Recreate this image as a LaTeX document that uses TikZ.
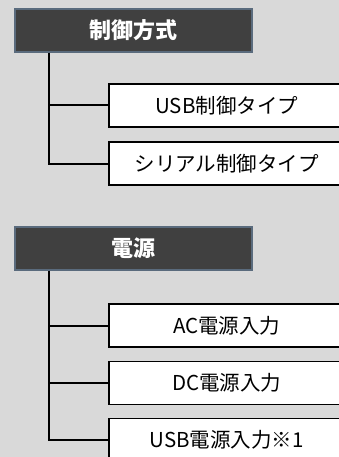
\documentclass[tikz,border=0pt]{standalone}
\usepackage{fontspec}
\setmainfont{Noto Sans CJK JP}
\definecolor{bg}{HTML}{D9D9D9}
\definecolor{hdr}{HTML}{404040}
\definecolor{hdrline}{HTML}{5A6B7D}
\begin{document}
\begin{tikzpicture}[x=1pt,y=-1pt,
  hdrbox/.style={draw=hdrline,line width=1.2pt,fill=hdr,text=white,minimum width=237pt,minimum height=43pt,inner sep=0pt,font=\fontsize{22}{22}\selectfont\bfseries},
  itembox/.style={draw=black,line width=1.5pt,fill=white,minimum width=236pt,minimum height=43pt,inner sep=0pt,font=\fontsize{20.5}{20.5}\selectfont},
  conn/.style={line width=2pt,black}]
\fill[bg] (0,0) rectangle (339,457);
\useasboundingbox (0,0) rectangle (339,457);
% group 1
\node[hdrbox] (h1) at (133.5,30.5) {制御方式};
\node[itembox,anchor=west] (u1) at (108,105.5) {USB制御タイプ};
\node[itembox,anchor=west] (s1) at (108,163.5) {シリアル制御タイプ};
\coordinate (t1) at ([xshift=-84.5pt]h1.south);
\draw[conn] (t1) |- (s1.west);
\draw[conn] (t1 |- u1.west) -- (u1.west);
% group 2
\node[hdrbox] (h2) at (133.5,248.5) {電源};
\node[itembox,anchor=west] (a2) at (108,325.5) {AC電源入力};
\node[itembox,anchor=west] (d2) at (108,383) {DC電源入力};
\node[itembox,anchor=west] (b2) at (108,440) {USB電源入力※1};
\coordinate (t2) at ([xshift=-84.5pt]h2.south);
\draw[conn] (t2) |- (b2.west);
\draw[conn] (t2 |- a2.west) -- (a2.west);
\draw[conn] (t2 |- d2.west) -- (d2.west);
\end{tikzpicture}
\end{document}
